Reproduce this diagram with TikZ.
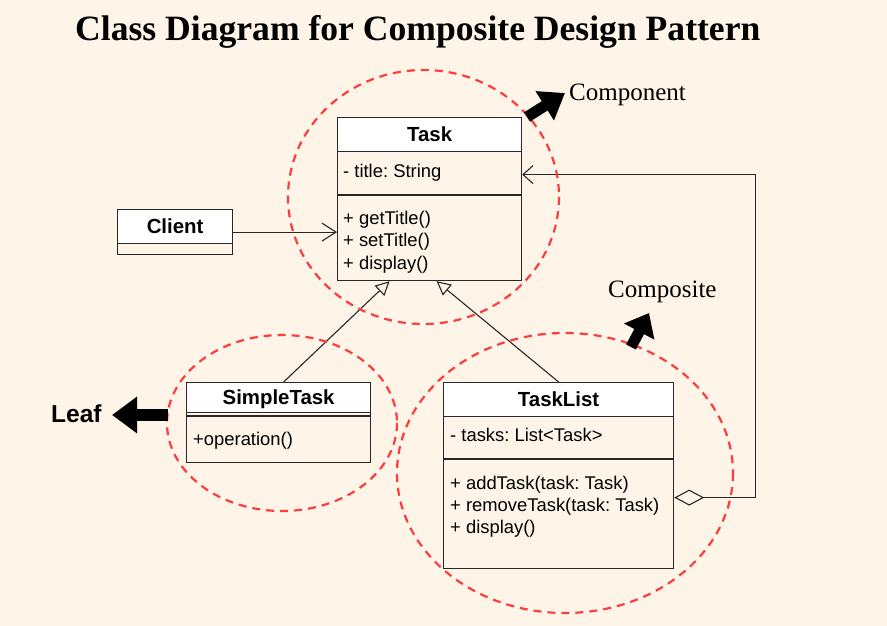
\documentclass[tikz,border=0pt]{standalone}
\usepackage{fontspec}
\setmainfont{Liberation Serif}
\newfontfamily\sansf{Liberation Sans}
\usetikzlibrary{arrows.meta,calc}
\frenchspacing
\definecolor{bg}{RGB}{254,245,232}
\definecolor{linecol}{RGB}{40,40,40}
\definecolor{ringred}{RGB}{255,60,60}
\tikzset{
  classbox/.style={draw=linecol, line width=1.2pt, fill=bg, inner sep=0pt, anchor=north west},
  hdrbox/.style={draw=linecol, line width=1.2pt, fill=white, inner sep=0pt, anchor=north west, text depth=0pt, font=\sansf\bfseries\fontsize{20.4}{20}\selectfont},
  member/.style={anchor=base west, inner sep=0pt, font=\sansf\fontsize{18.4}{18}\selectfont},
  conn/.style={draw=linecol, line width=1.1pt},
  ring/.style={draw=ringred, line width=2.2pt, dash pattern=on 8pt off 6pt},
  bigarrow/.style={line width=11pt, black},
  tag/.style={anchor=base west, inner sep=0pt, font=\fontsize{25}{25}\selectfont},
}
\begin{document}
\begin{tikzpicture}[x=1pt,y=-1pt]
\fill[bg] (0,0) rectangle (887,626);
\useasboundingbox (0,0) rectangle (887,626);

% title
\node[anchor=base west, inner sep=0pt, font=\bfseries\fontsize{35.6}{36}\selectfont] (title) at (75,41) {Class Diagram for Composite Design Pattern};

% Task
\node[classbox, minimum width=184pt, minimum height=163pt] (task) at (337,117) {};
\node[hdrbox, minimum width=184pt, minimum height=34pt] (taskh) at (337,117) {Task};
\draw[draw=linecol, line width=1.2pt] (337,195) -- (521,195);
\node[member] (ta1) at (343,177) {- title: String};
\node[member] (tm1) at (343,224) {+ getTitle()};
\node[member] (tm2) at (343,246.5) {+ setTitle()};
\node[member] (tm3) at (343,269) {+ display()};

% Client
\node[classbox, minimum width=115pt, minimum height=45pt] (client) at (117,209) {};
\node[hdrbox, minimum width=115pt, minimum height=34pt] (clienth) at (117,209) {Client};

% SimpleTask
\node[classbox, minimum width=184pt, minimum height=80pt] (simple) at (186,382) {};
\node[hdrbox, minimum width=184pt, minimum height=30pt] (simpleh) at (186,382) {SimpleTask};
\draw[draw=linecol, line width=1.2pt] (186,416) -- (370,416);
\node[member] (sm1) at (193,445) {+operation()};

% TaskList
\node[classbox, minimum width=230pt, minimum height=186pt] (tasklist) at (443,382) {};
\node[hdrbox, minimum width=230pt, minimum height=34pt] (tasklisth) at (443,382) {TaskList};
\draw[draw=linecol, line width=1.2pt] (443,459) -- (673,459);
\node[member] (la1) at (450,441) {- tasks: List<Task>};
\node[member] (lm1) at (450,489) {+ addTask(task: Task)};
\node[member] (lm2) at (450,511) {+ removeTask(task: Task)};
\node[member] (lm3) at (450,533) {+ display()};

% connectors
\draw[conn, -{Straight Barb[length=14pt,width=18pt]}] (client.east) -- (client.east -| task.west);
\draw[conn, -{Triangle[open,fill=bg,length=14pt,width=14pt]}] ($(simple.north)+(5,0)$) -- ($(task.south)+(-40,0)$);
\draw[conn, -{Triangle[open,fill=bg,length=14pt,width=14pt]}] (tasklist.north) -- ($(task.south)+(7,0)$);
\draw[conn, {Diamond[open,fill=bg,length=30pt,width=16pt]}-{Straight Barb[length=10pt,width=18pt]}]
  ($(tasklist.east)+(0,22)$) -- ++(81,0) |- ($(task.east)+(0,-24.5)$);

% dashed rings
\draw[ring] (423.5,197) ellipse [x radius=135.5, y radius=127];
\draw[ring] (282,423) ellipse [x radius=115, y radius=88];
\draw[ring] (565,473) ellipse [x radius=168, y radius=140];

% big arrows and tags
\draw[bigarrow, -{Triangle[length=24pt,width=33pt]}] (527,117) -- (565,93);
\draw[bigarrow, -{Triangle[length=21pt,width=33pt]}] (631,347) -- (649,313);
\draw[bigarrow, line width=12pt, -{Triangle[length=25pt,width=35pt]}] (168,415) -- (112,415);
\node[tag] (comp) at (569,101) {Component};
\node[tag] (compo) at (608,297) {Composite};
\node[tag, font=\sansf\bfseries\fontsize{24.5}{24}\selectfont] (leaf) at (51,422) {Leaf};
\end{tikzpicture}
\end{document}
